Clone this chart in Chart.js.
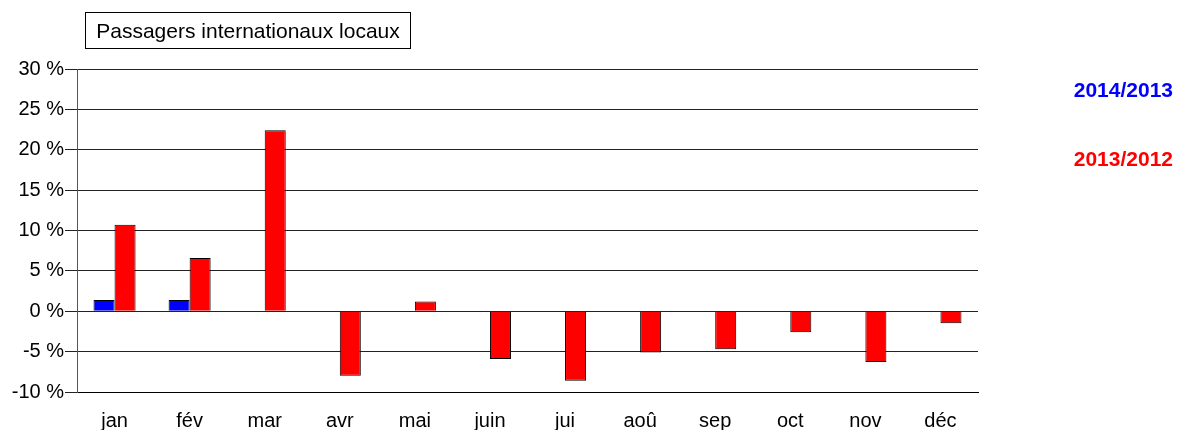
<!DOCTYPE html>
<html>
<head>
<meta charset="utf-8">
<script src="https://cdn.jsdelivr.net/npm/chart.js@4"></script>
<style>
  html, body { margin: 0; padding: 0; background: #fff; }
  #wrap { position: relative; width: 1177px; height: 430px; font-family: "Liberation Sans", Arial, sans-serif; }
  #chart { position: absolute; left: 0; top: 0; }
  .title { position: absolute; left: 85px; top: 12px; width: 324px; height: 35px; border: 1px solid #000;
           font-size: 21px; line-height: 36px; text-align: center; color: #000; box-sizing: content-box; }
  .legend { position: absolute; right: 4px; font-size: 21px; font-weight: bold; }
</style>
</head>
<body>
<div id="wrap">
  <canvas id="chart" width="1177" height="430"></canvas>
  <div class="title">Passagers internationaux locaux</div>
  <div class="legend" style="top:78px;color:#0000ff">2014/2013</div>
  <div class="legend" style="top:147px;color:#ff0000">2013/2012</div>
</div>
<script>
// monthly change in %
const months = ["jan", "fév", "mar", "avr", "mai", "juin", "jui", "aoû", "sep", "oct", "nov", "déc"]
const growth2014 = [1.4, 1.4, null, null, null, null, null, null, null, null, null, null]
const growth2013 = [10.7, 6.6, 22.4, -8.0, 1.2, -5.9, -8.6, -5.1, -4.7, -2.6, -6.3, -1.5]
const yMin = -10, yMax = 30, yStep = 5

const font = { family: "'Liberation Sans', Arial, sans-serif", size: 20 }

new Chart(document.getElementById("chart"), {
  type: "bar",
  data: {
    labels: months,
    datasets: [
      { label: "2014/2013", data: growth2014, backgroundColor: "#0000ff", borderColor: "#000", borderWidth: 1 },
      { label: "2013/2012", data: growth2013, backgroundColor: "#ff0000", borderColor: "#000", borderWidth: 1 }
    ]
  },
  options: {
    responsive: false,
    animation: false,
    categoryPercentage: 0.56,
    barPercentage: 1.0,
    layout: { padding: { top: 69, right: 199, bottom: 0, left: 0 } },
    plugins: { legend: { display: false }, tooltip: { enabled: false } },
    scales: {
      x: {
        grid: { display: false },
        border: { color: "#000" },
        ticks: { color: "#000", font, padding: 9 },
        afterFit: (s) => { s.height = 38 }
      },
      y: {
        min: yMin, max: yMax,
        grid: { color: "#222", tickLength: 12, tickColor: "#222" },
        border: { color: "#555" },
        ticks: { stepSize: yStep, color: "#000", font, padding: 1, callback: (v) => v + " %" },
        afterFit: (s) => { s.width = 77 }
      }
    }
  }
})
</script>
</body>
</html>
